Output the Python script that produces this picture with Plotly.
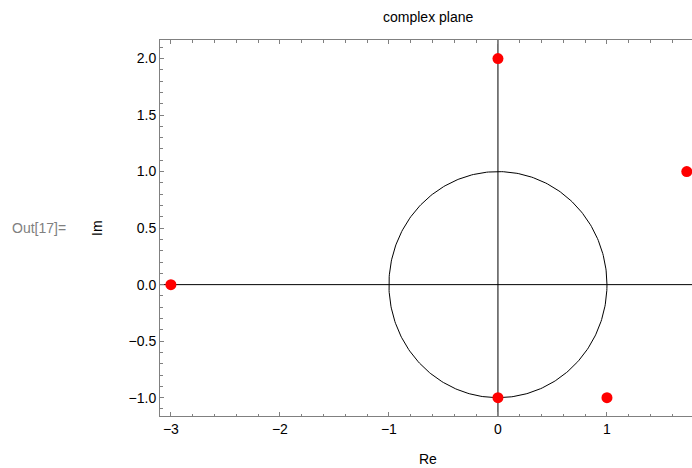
import numpy as np
import plotly.graph_objects as go

# data: complex numbers plotted in the plane
point_re = [0.0, 1.732, -3.0, 0.0, 1.0]
point_im = [2.0, 1.0, 0.0, -1.0, -1.0]
x_ticks = [-3, -2, -1, 0, 1]
y_ticks = [-1.0, -0.5, 0.0, 0.5, 1.0, 1.5, 2.0]
circle_radius = 1.0

theta = np.linspace(0, 2 * np.pi, 361)

fig = go.Figure()
# axes through origin
fig.add_trace(go.Scatter(x=[-3.1, 1.78], y=[0, 0], mode="lines",
                         line=dict(color="black", width=1), hoverinfo="skip"))
fig.add_trace(go.Scatter(x=[0, 0], y=[-1.162, 2.164], mode="lines",
                         line=dict(color="black", width=1), hoverinfo="skip"))
# unit circle
fig.add_trace(go.Scatter(x=circle_radius * np.cos(theta), y=circle_radius * np.sin(theta),
                         mode="lines", line=dict(color="black", width=1), hoverinfo="skip"))
# points
fig.add_trace(go.Scatter(x=point_re, y=point_im, mode="markers", cliponaxis=False,
                         marker=dict(color="#ff0000", size=11, line=dict(width=0))))

axis_common = dict(
    showgrid=False, zeroline=False, showline=True, linecolor="#808080", linewidth=1,
    ticks="inside", ticklen=4, tickcolor="#808080", tickwidth=1,
    tickfont=dict(family="Liberation Sans, Arial", size=14, color="black"),
)

W, H = 692, 468
l, r, t, b = 160, 0, 40, 52

fig.update_layout(
    width=W, height=H,
    margin=dict(l=l, r=r, t=t, b=b),
    paper_bgcolor="white", plot_bgcolor="white",
    showlegend=False,
    xaxis=dict(range=[-3.1, 1.78], tickvals=x_ticks,
               ticktext=[str(t).replace("-", "\u2212") for t in x_ticks],
               mirror="ticks",
               minor=dict(dtick=0.2, tick0=0, ticks="inside", ticklen=2.5, tickcolor="#808080"),
               **axis_common),
    yaxis=dict(range=[-1.162, 2.164], tickvals=y_ticks,
               ticktext=[f"{t:.1f}".replace("-", "\u2212") for t in y_ticks],
               mirror=False,
               minor=dict(dtick=0.1, tick0=0, ticks="inside", ticklen=2.5, tickcolor="#808080"),
               **axis_common),
    font=dict(family="Liberation Sans, Arial", color="black"),
)

pw, ph = W - l - r, H - t - b


def add_label(text, px, py, size, color="black", angle=0):
    fig.add_annotation(text=text, xref="paper", yref="paper",
                       x=(px - l) / pw, y=1 - (py - t) / ph,
                       xanchor="center", yanchor="middle", showarrow=False,
                       textangle=angle, font=dict(size=size, color=color))


add_label("complex plane", 428, 17, 14)
add_label("Re", 428, 459, 14)
add_label("Im", 97, 228, 14, angle=-90)
add_label("Out[17]=", 39, 228, 14, color="#808080")

fig.write_html("out.html", config={"displayModeBar": False},
               post_script="document.body.style.margin='0';document.body.style.overflow='hidden';")
